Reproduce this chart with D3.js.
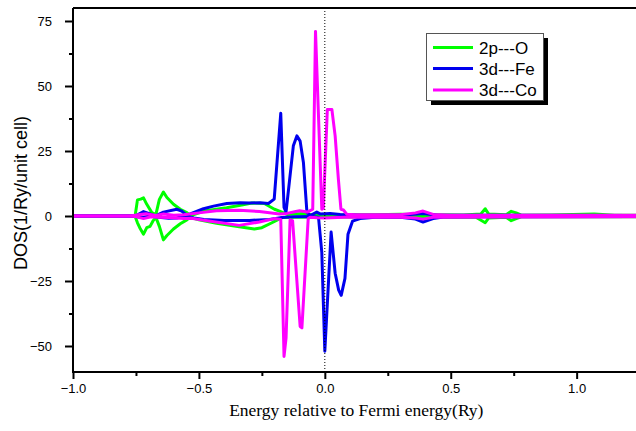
<!DOCTYPE html>
<html><head><meta charset="utf-8">
<script src="https://cdn.jsdelivr.net/npm/d3@7"></script>
<style>body{margin:0;background:#fff}svg{display:block}</style>
</head><body><svg id="c" width="636" height="431"></svg>
<script>
// ---- data: [energy (Ry), DOS] ----
const seriesNames = ["2p---O", "3d---Fe", "3d---Co"];
const seriesColors = ["#00ff00", "#0000ee", "#ff00ff"];
const xTicks = [-1.0, -0.5, 0.0, 0.5, 1.0];
const yTicks = [-50, -25, 0, 25, 50, 75];

const oUp = [[-1,0],[-0.76,0],[-0.753,0.3],[-0.744,6.2],[-0.731,6.5],[-0.72,7.0],[-0.707,4.5],[-0.687,1.3],[-0.671,0.5],[-0.657,6.4],[-0.641,9.2],[-0.627,7.1],[-0.601,4.5],[-0.574,2.6],[-0.548,1.3],[-0.535,0.3],[-0.52,0.5],[-0.48,1.9],[-0.39,3.2],[-0.33,4.2],[-0.29,5.0],[-0.24,4.8],[-0.2,2.6],[-0.18,1.9],[-0.15,0.6],[-0.12,0.8],[-0.08,1.0],[-0.04,0.3],[0,0.5],[0.05,0.3],[0.1,0.5],[0.2,0.5],[0.3,0.7],[0.4,0.5],[0.55,0.4],[0.62,0.8],[0.637,2.8],[0.65,0.8],[0.72,0.5],[0.74,1.8],[0.76,1.2],[0.78,0.3],[0.9,0.4],[1.07,0.8],[1.15,0.3],[1.25,0.3]];
const oDn = [[-1,0],[-0.76,0],[-0.753,-0.3],[-0.744,-2.6],[-0.735,-4.5],[-0.72,-7.0],[-0.707,-4.5],[-0.694,-4.0],[-0.683,-2.0],[-0.671,-0.5],[-0.657,-4.0],[-0.641,-9.2],[-0.627,-7.5],[-0.601,-5.0],[-0.574,-3.0],[-0.548,-1.5],[-0.535,-0.5],[-0.5,-1.5],[-0.43,-2.8],[-0.34,-4.1],[-0.28,-5.0],[-0.25,-4.5],[-0.21,-2.6],[-0.17,-0.6],[-0.12,-0.5],[0,-0.3],[0.3,-0.5],[0.6,-0.5],[0.637,-2.6],[0.65,-0.8],[0.72,-0.5],[0.74,-1.8],[0.76,-1.0],[0.78,-0.3],[1.25,-0.3]];
const feUp = [[-1,0],[-0.773,0],[-0.747,0.3],[-0.72,1.7],[-0.694,0.8],[-0.674,0],[-0.641,1.5],[-0.588,2.6],[-0.568,1.9],[-0.548,0.2],[-0.522,1.3],[-0.482,2.8],[-0.442,3.8],[-0.389,4.8],[-0.336,5.1],[-0.297,5.0],[-0.257,5.1],[-0.224,4.8],[-0.201,6.5],[-0.175,39.5],[-0.162,3.3],[-0.154,1.5],[-0.125,27],[-0.111,30.8],[-0.098,28.8],[-0.085,20.6],[-0.071,1.4],[-0.058,0.2],[-0.032,1.5],[-0.019,0.8],[0.021,1.0],[0.061,0.6],[0.14,0.3],[0.3,0.3],[0.39,1.0],[0.45,0.3],[1.25,0.2]];
const feDn = [[-1,0],[-0.773,0],[-0.747,-0.3],[-0.72,-0.5],[-0.694,0],[-0.66,-0.5],[-0.62,-0.9],[-0.588,-0.8],[-0.555,0],[-0.52,-0.8],[-0.48,-1.3],[-0.4,-1.7],[-0.3,-1.7],[-0.22,-1.3],[-0.17,-0.6],[-0.12,-0.3],[-0.06,-0.2],[-0.032,-0.4],[-0.025,-0.6],[-0.012,-14],[0.0,-52],[0.025,-6.2],[0.041,-22],[0.055,-28.5],[0.065,-30.5],[0.08,-24],[0.092,-7],[0.11,-2],[0.14,-1.0],[0.2,-0.5],[0.3,-0.5],[0.36,-1.2],[0.39,-2.3],[0.43,-1.0],[0.47,-0.4],[0.6,-0.3],[1.25,-0.2]];
const coUp = [[-1,0],[-0.773,0],[-0.747,0.4],[-0.71,0.9],[-0.67,0.2],[-0.64,0.8],[-0.6,0.3],[-0.56,0.5],[-0.5,1.2],[-0.43,2.0],[-0.34,2.2],[-0.26,1.7],[-0.18,0.8],[-0.15,1.0],[-0.12,1.6],[-0.1,2.0],[-0.07,1.5],[-0.048,2.6],[-0.037,71],[-0.012,2.6],[-0.006,3.0],[0.01,41],[0.028,41],[0.041,30.8],[0.054,14],[0.064,2.6],[0.074,2.3],[0.087,0.7],[0.12,0.5],[0.3,0.5],[0.36,1.2],[0.39,1.9],[0.43,0.6],[0.5,0.3],[1.25,0.3]];
const coDn = [[-1,0],[-0.773,0],[-0.747,-0.3],[-0.72,-1.0],[-0.69,-0.3],[-0.66,-0.5],[-0.62,-0.6],[-0.56,-1.0],[-0.53,-0.9],[-0.46,-1.9],[-0.34,-3.6],[-0.26,-2.3],[-0.2,-1.0],[-0.175,-1.3],[-0.162,-54],[-0.154,-47],[-0.138,-1.5],[-0.128,-1.8],[-0.098,-42.5],[-0.091,-43],[-0.066,-1.0],[-0.058,-0.5],[-0.03,-0.7],[0.0,-0.8],[0.05,-0.6],[0.1,-0.4],[0.3,-0.5],[0.36,-0.8],[0.39,-1.2],[0.43,-0.5],[1.25,-0.3]];

const seriesData = [[oUp, oDn], [feUp, feDn], [coUp, coDn]];

// ---- layout ----
const svg = d3.select("#c");
const x = d3.scaleLinear().domain([-1, 1.25]).range([73, 639.6]);
const y = d3.scaleLinear().domain([-60, 80]).range([372, 8]);

svg.append("defs").append("clipPath").attr("id","clip")
  .append("rect").attr("x",73).attr("y",8).attr("width",566.6).attr("height",364);

const line = d3.line().x(d => x(d[0])).y(d => y(d[1]));
const g = svg.append("g").attr("clip-path","url(#clip)");
seriesData.forEach((pair, i) => {
  pair.forEach(arr => {
    g.append("path").datum(arr).attr("d", line)
      .attr("fill","none").attr("stroke", seriesColors[i])
      .attr("stroke-width", 3).attr("stroke-linejoin","round");
  });
});

// Fermi level dotted line
svg.append("line").attr("x1", x(0)).attr("x2", x(0)).attr("y1", y(80)).attr("y2", y(-60))
  .attr("stroke","#000").attr("stroke-width",1).attr("stroke-dasharray","1,2");

// axes
const font = "'Liberation Sans', Arial, sans-serif";
const xAxis = d3.axisBottom(x).tickValues(xTicks).tickFormat(d3.format(".1f")).tickSize(7).tickPadding(5);
const yAxis = d3.axisLeft(y).tickValues(yTicks).tickFormat(d3.format("d")).tickSize(8).tickPadding(13);
const xMinor = d3.axisBottom(x).tickValues([-0.75,-0.25,0.25,0.75]).tickFormat("").tickSize(4);
const yMinor = d3.axisLeft(y).tickValues([-37.5,-12.5,12.5,37.5,62.5]).tickFormat("").tickSize(4);

function style(sel){
  sel.select(".domain").remove();
  sel.selectAll("line").attr("stroke","#000").attr("stroke-width",2);
  sel.selectAll("text").attr("font-family",font).attr("font-size",13).attr("fill","#000");
}
svg.append("g").attr("transform","translate(0,372)").call(xAxis).call(style);
svg.append("g").attr("transform","translate(0,372)").call(xMinor).call(style);
svg.append("g").attr("transform","translate(73,0)").call(yAxis).call(style);
svg.append("g").attr("transform","translate(73,0)").call(yMinor).call(style);

// frame lines
svg.append("path").attr("d", `M73,8 L73,372 L640,372 M73,8 L640,8`)
  .attr("fill","none").attr("stroke","#000").attr("stroke-width",2);

// titles
svg.append("text").attr("x", x(0.125)).attr("y", 416).attr("text-anchor","middle")
  .attr("font-family","'Liberation Serif', 'Times New Roman', serif").attr("font-size",17.5)
  .text("Energy relative to Fermi energy(Ry)");
svg.append("text").attr("transform","translate(27,193) rotate(-90)").attr("text-anchor","middle")
  .attr("font-family",font).attr("font-size",18)
  .text("DOS(1/Ry/unit cell)");

// legend
const lg = svg.append("g");
lg.append("rect").attr("x",431).attr("y",38).attr("width",117).attr("height",67).attr("fill","#000");
lg.append("rect").attr("x",426.5).attr("y",33.5).attr("width",117).attr("height",67)
  .attr("fill","#fff").attr("stroke","#555").attr("stroke-width",1);
const rows = [47.5, 68.5, 90];
seriesNames.forEach((n, i) => {
  lg.append("line").attr("x1",433).attr("x2",473).attr("y1",rows[i]).attr("y2",rows[i])
    .attr("stroke",seriesColors[i]).attr("stroke-width",3);
  lg.append("text").attr("x",479).attr("y",rows[i]+6).attr("font-family",font).attr("font-size",17)
    .attr("fill","#000").text(n);
});
</script></body></html>
